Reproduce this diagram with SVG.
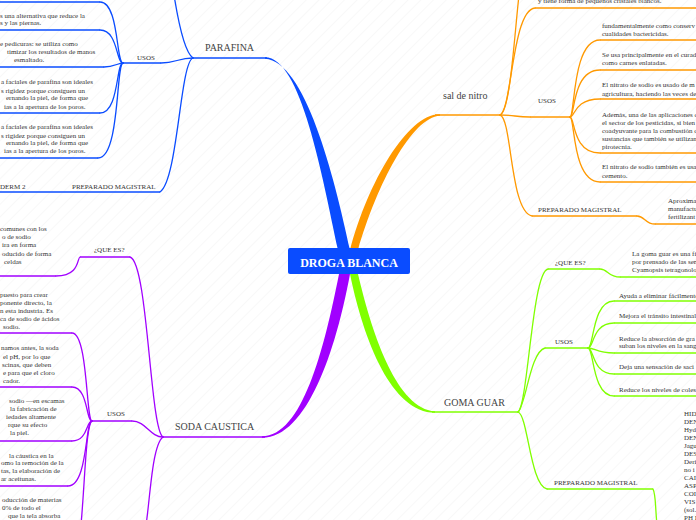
<svg xmlns="http://www.w3.org/2000/svg" width="696" height="520" viewBox="0 0 696 520">
<defs>
<style>
.c{fill:none;stroke-width:1.3;stroke-linecap:round}
.u{fill:none;stroke-width:1.4}
.b{stroke:#0a4cff}.o{stroke:#ff9900}.p{stroke:#a100ff}.g{stroke:#80ff00}
.lbl{font-family:"Liberation Serif",serif;font-size:10px;fill:#444}
.sub{font-family:"Liberation Serif",serif;font-size:7px;fill:#333}
.leaf{font-family:"Liberation Serif",serif;font-size:7px;fill:#333}
</style>
<pattern id="bg" width="9" height="9" patternUnits="userSpaceOnUse" patternTransform="rotate(45)">
<line x1="0" y1="0" x2="0" y2="9" stroke="#f1f1f1" stroke-width="1"/>
</pattern>
</defs>
<rect width="696" height="520" fill="#fff"/>
<rect width="696" height="520" fill="url(#bg)"/>

<g id="connectors">
<!-- main tapered branches -->
<path d="M338,250 C322,175 301,57.3 265,57.3 L265,58.7 C305,61 334,175 350,250 Z" fill="#0a4cff"/>
<path d="M350,250 C368,182 408,113.3 440,114.3 L440,115.7 C412,117 377,184 358,250 Z" fill="#ff9900"/>
<path d="M339,274 C324,350 302,436.3 262,436.3 L262,437.7 C307,438 336,350 350,274 Z" fill="#a100ff"/>
<path d="M350,274 C364,342 392,412.7 435,412.7 L435,411.3 C398,409 373,338 358,274 Z" fill="#80ff00"/>
<!-- parafina -->
<path class="c b" d="M193,58 C184,52 178,20 174,-5"/>
<path class="c b" d="M193,58 C178,58 176,63 161,63"/>
<path class="c b" d="M193,58 C180,62 178,180 160,192"/>
<path class="c b" d="M123,63 C116,63 119,2 100,2"/>
<path class="c b" d="M123,63 C116,63 118,30 100,30"/>
<path class="c b" d="M123,63 C118,63 114,67 104,67"/>
<path class="c b" d="M123,63 C116,63 119,113 100,113"/>
<path class="c b" d="M123,63 C116,63 120,158 98,158"/>
<!-- soda -->
<path class="c p" d="M163,437 C150,430 148,262 130,257"/>
<path class="c p" d="M80,257 C77,258 80,276 56,276"/>
<path class="c p" d="M163,437 C150,437 146,421 132,421"/>
<path class="c p" d="M163,437 C152,445 150,500 146,525"/>
<path class="c p" d="M92,421 C86,421 88,333 72,333"/>
<path class="c p" d="M92,421 C86,421 88,387 72,387"/>
<path class="c p" d="M92,421 C86,421 88,441 72,441"/>
<path class="c p" d="M92,421 C85,421 88,486 68,486"/>
<path class="c p" d="M92,421 C86,425 85,480 81,525"/>
<!-- sal de nitro -->
<path class="c o" d="M500,115 C510,112 514,40 519,-5"/>
<path class="c o" d="M500,115 C512,110 512,10 535,8"/>
<path class="c o" d="M500,115 C515,115 515,117 530,117"/>
<path class="c o" d="M500,115 C512,118 510,212 532,216"/>
<path class="c o" d="M570,117 C575,117 572,40 600,40"/>
<path class="c o" d="M570,117 C575,117 572,70 600,70"/>
<path class="c o" d="M570,117 C575,117 574,99 600,99"/>
<path class="c o" d="M570,117 C575,117 572,153 600,153"/>
<path class="c o" d="M570,117 C575,117 572,182 600,182"/>
<path class="c o" d="M637,216 C645,216 645,224 655,224"/>
<!-- goma guar -->
<path class="c g" d="M518,412 C528,405 532,272 548,269"/>
<path class="c g" d="M600,269 C608,269 608,277 620,277"/>
<path class="c g" d="M518,412 C526,405 530,352 545,348"/>
<path class="c g" d="M518,412 C528,415 530,485 547,489"/>
<path class="c g" d="M588,348 C594,348 592,301 614,301"/>
<path class="c g" d="M588,348 C594,348 592,323 614,323"/>
<path class="c g" d="M588,348 C595,348 597,353 614,353"/>
<path class="c g" d="M588,348 C594,348 592,374 614,374"/>
<path class="c g" d="M588,348 C594,348 592,396 614,396"/>
<path class="c g" d="M653,489 C656,495 655,505 657,525"/>
</g>

<g id="node-center">
<rect x="288" y="248" width="122" height="26" rx="2" fill="#0a4cff"/>
<text x="349" y="266.5" text-anchor="middle" font-family="'Liberation Serif',serif" font-size="12" font-weight="bold" fill="#fff">DROGA BLANCA</text>
</g>

<!-- PARAFINA -->
<g id="node-parafina"><path class="u b" d="M193,58 H267"/><text class="lbl" x="205" y="51">PARAFINA</text></g>
<g id="node-parafina-usos"><path class="u b" d="M123,63 H161"/><text class="sub" x="137" y="60">USOS</text></g>
<g id="node-parafina-preparado"><path class="u b" d="M-2,192 H160"/><text class="sub" x="72" y="189">PREPARADO MAGISTRAL</text></g>
<g id="node-parafina-derm"><text class="sub" x="0" y="189">DERM 2</text></g>
<g id="node-parafina-uso0"><path class="u b" d="M-2,2 H100"/></g>
<g id="node-parafina-uso1"><path class="u b" d="M-2,30 H100"/>
<text class="leaf" x="0" y="17.5">s una alternativa que reduce la</text>
<text class="leaf" x="0" y="25.2">s y las piernas.</text></g>
<g id="node-parafina-uso2"><path class="u b" d="M-2,67 H104"/>
<text class="leaf" x="0" y="46.2">e pedicuras: se utiliza como</text>
<text class="leaf" x="7" y="54.2">timizar los resultados de manos</text>
<text class="leaf" x="14" y="61.8">esmaltado.</text></g>
<g id="node-parafina-uso3"><path class="u b" d="M-2,113 H100"/>
<text class="leaf" x="1" y="84.2">a faciales de parafina son ideales</text>
<text class="leaf" x="1" y="92.5">s rigidez porque consiguen un</text>
<text class="leaf" x="6" y="100.2">ernando la piel, de forma que</text>
<text class="leaf" x="4" y="108.5">ias a la apertura de los poros.</text></g>
<g id="node-parafina-uso4"><path class="u b" d="M-2,158 H98"/>
<text class="leaf" x="1" y="129.2">a faciales de parafina son ideales</text>
<text class="leaf" x="1" y="137.5">s rigidez porque consiguen un</text>
<text class="leaf" x="6" y="145.2">ernando la piel, de forma que</text>
<text class="leaf" x="4" y="153.2">ias a la apertura de los poros.</text></g>

<!-- SODA CAUSTICA -->
<g id="node-soda"><path class="u p" d="M163,437 H265"/><text class="lbl" x="175" y="429.5">SODA CAUSTICA</text></g>
<g id="node-soda-quees"><path class="u p" d="M80,257 H130"/><text class="sub" x="94" y="252">¿QUE ES?</text></g>
<g id="node-soda-quees-leaf"><path class="u p" d="M-2,276 H56"/>
<text class="leaf" x="0" y="230.8">comunes con los</text>
<text class="leaf" x="2" y="239.2">o de sodio</text>
<text class="leaf" x="2" y="247.2">ira en forma</text>
<text class="leaf" x="2" y="255.5">oducido de forma</text>
<text class="leaf" x="4" y="263.5">celdas</text></g>
<g id="node-soda-usos"><path class="u p" d="M92,421 H132"/><text class="sub" x="107" y="416">USOS</text></g>
<g id="node-soda-uso1"><path class="u p" d="M-2,333 H72"/>
<text class="leaf" x="0" y="296.5">puesto para crear</text>
<text class="leaf" x="0" y="304.5">ponente directo, la</text>
<text class="leaf" x="0" y="312.5">n esta industria. Es</text>
<text class="leaf" x="0" y="320.5">ca de sodio de ácidos</text>
<text class="leaf" x="3" y="328.5">sodio.</text></g>
<g id="node-soda-uso2"><path class="u p" d="M-2,387 H72"/>
<text class="leaf" x="1" y="350.2">namos antes, la soda</text>
<text class="leaf" x="3" y="358.5">el pH, por lo que</text>
<text class="leaf" x="2" y="366.5">scinas, que deben</text>
<text class="leaf" x="3" y="374.5">e para que el cloro</text>
<text class="leaf" x="3" y="382.5">cador.</text></g>
<g id="node-soda-uso3"><path class="u p" d="M-2,441 H72"/>
<text class="leaf" x="9" y="403.2">sodio —en escamas</text>
<text class="leaf" x="10" y="411.2">la fabricación de</text>
<text class="leaf" x="6" y="419.2">iedades altamente</text>
<text class="leaf" x="8" y="427.2">rque su efecto</text>
<text class="leaf" x="10" y="435.2">la piel.</text></g>
<g id="node-soda-uso4"><path class="u p" d="M-2,486 H68"/>
<text class="leaf" x="9" y="457.5">la cáustica en la</text>
<text class="leaf" x="1" y="465.2">omo la remoción de la</text>
<text class="leaf" x="1" y="473.2">tas, la elaboración de</text>
<text class="leaf" x="1" y="481.2">ar aceitunas.</text></g>
<g id="node-soda-uso5">
<text class="leaf" x="2" y="501.5">oducción de materias</text>
<text class="leaf" x="2" y="509.5">0% de todo el</text>
<text class="leaf" x="8" y="517.8">que la tela absorba</text></g>

<!-- SAL DE NITRO -->
<g id="node-sal"><path class="u o" d="M435,115 H500"/><text class="lbl" x="443" y="98.5" font-size="10.5">sal de nitro</text></g>
<g id="node-sal-top"><path class="u o" d="M535,8 H700"/><text class="leaf" x="538" y="3">y tiene forma de pequeños cristales blancos.</text></g>
<g id="node-sal-usos"><path class="u o" d="M530,117 H570"/><text class="sub" x="538" y="103">USOS</text></g>
<g id="node-sal-uso1"><path class="u o" d="M600,40 H700"/>
<text class="leaf" x="602" y="27.5">fundamentalmente como conserv</text>
<text class="leaf" x="602" y="35.8">cualidades bactericidas.</text></g>
<g id="node-sal-uso2"><path class="u o" d="M600,70 H700"/>
<text class="leaf" x="602" y="56.8">Se usa principalmente en el curad</text>
<text class="leaf" x="602" y="64.8">como carnes enlatadas.</text></g>
<g id="node-sal-uso3"><path class="u o" d="M600,99 H700"/>
<text class="leaf" x="602" y="86.8">El nitrato de sodio es usado de m</text>
<text class="leaf" x="602" y="95.8">agricultura, haciendo las veces de</text></g>
<g id="node-sal-uso4"><path class="u o" d="M600,153 H700"/>
<text class="leaf" x="602" y="116.8">Además, una de las aplicaciones d</text>
<text class="leaf" x="602" y="125.2">el sector de los pesticidas, si bien</text>
<text class="leaf" x="602" y="133.2">coadyuvante para la combustión d</text>
<text class="leaf" x="602" y="141">sustancias que también se utilizan</text>
<text class="leaf" x="602" y="148.5">pirotecnia.</text></g>
<g id="node-sal-uso5"><path class="u o" d="M600,182 H700"/>
<text class="leaf" x="602" y="169.2">El nitrato de sodio también es usa</text>
<text class="leaf" x="602" y="177.5">cemento.</text></g>
<g id="node-sal-preparado"><path class="u o" d="M532,216 H637"/><text class="sub" x="538" y="212">PREPARADO MAGISTRAL</text></g>
<g id="node-sal-preparado-leaf"><path class="u o" d="M655,224 H700"/>
<text class="leaf" x="668" y="203.2">Aproxima</text>
<text class="leaf" x="668" y="210.8">manufactu</text>
<text class="leaf" x="668" y="218.5">fertilizant</text></g>

<!-- GOMA GUAR -->
<g id="node-goma"><path class="u g" d="M432,412 H518"/><text class="lbl" x="444" y="405.5">GOMA GUAR</text></g>
<g id="node-goma-quees"><path class="u g" d="M548,269 H600"/><text class="sub" x="555" y="265">¿QUE ES?</text></g>
<g id="node-goma-quees-leaf"><path class="u g" d="M620,277 H700"/>
<text class="leaf" x="632" y="255.8">La goma guar es una fi</text>
<text class="leaf" x="632" y="263.5">por prensado de las sem</text>
<text class="leaf" x="632" y="271.5">Cyamopsis tetragonolo</text></g>
<g id="node-goma-usos"><path class="u g" d="M545,348 H588"/><text class="sub" x="555" y="344">USOS</text></g>
<g id="node-goma-uso1"><path class="u g" d="M614,301 H700"/><text class="leaf" x="619" y="297.5">Ayuda a eliminar fácilmente</text></g>
<g id="node-goma-uso2"><path class="u g" d="M614,323 H700"/><text class="leaf" x="619" y="318">Mejora el tránsito intestinal</text></g>
<g id="node-goma-uso3"><path class="u g" d="M614,353 H700"/>
<text class="leaf" x="619" y="340.5">Reduce la absorción de gra</text>
<text class="leaf" x="619" y="348">suban los niveles en la sang</text></g>
<g id="node-goma-uso4"><path class="u g" d="M614,374 H700"/><text class="leaf" x="619" y="368.8">Deja una sensación de saci</text></g>
<g id="node-goma-uso5"><path class="u g" d="M614,396 H700"/><text class="leaf" x="619" y="391.5">Reduce los niveles de coles</text></g>
<g id="node-goma-preparado"><path class="u g" d="M547,489 H653"/><text class="sub" x="554" y="484.5">PREPARADO MAGISTRAL</text></g>
<g id="node-goma-preparado-leaf">
<text class="leaf" x="684" y="415.8">HID</text>
<text class="leaf" x="684" y="423.8">DEN</text>
<text class="leaf" x="684" y="431.8">Hyd</text>
<text class="leaf" x="684" y="439.8">DEN</text>
<text class="leaf" x="684" y="447.8">Jagu</text>
<text class="leaf" x="684" y="455.8">DES</text>
<text class="leaf" x="684" y="464.2">Deri</text>
<text class="leaf" x="684" y="472.2">no i</text>
<text class="leaf" x="684" y="479.8">CAI</text>
<text class="leaf" x="684" y="487.8">ASP</text>
<text class="leaf" x="684" y="495.8">COI</text>
<text class="leaf" x="684" y="503.8">VIS</text>
<text class="leaf" x="684" y="511.8">(sol.</text>
<text class="leaf" x="684" y="519.5">PH I</text></g>
</svg>
